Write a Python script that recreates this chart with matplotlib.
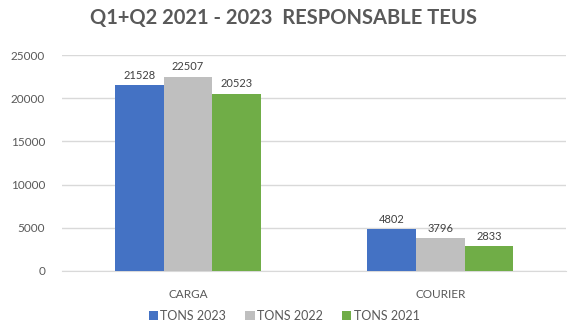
import numpy as np
import matplotlib.pyplot as plt

categories = ['CARGA', 'COURIER']
series_names = ['TONS 2023', 'TONS 2022', 'TONS 2021']
tons_2023 = [21528, 4802]
tons_2022 = [22507, 3796]
tons_2021 = [20523, 2833]
colors = ['#4472C4', '#BFBFBF', '#70AD47']

plt.rcParams['font.family'] = ['Lato', 'DejaVu Sans']
txt = '#595959'

fig = plt.figure(figsize=(5.68, 3.28), dpi=100)
ax = fig.add_axes([0.109, 0.174, 0.888, 0.658])

x = np.arange(len(categories))
w = 0.193
for i, (vals, name) in enumerate(zip([tons_2023, tons_2022, tons_2021], series_names)):
    bars = ax.bar(x + (i - 1) * w, vals, w, color=colors[i], label=name, zorder=3)
    for b, v in zip(bars, vals):
        ax.text(b.get_x() + b.get_width() / 2, v + 500, str(v),
                ha='center', va='bottom', fontsize=8, color='#404040')

ax.set_xlim(-0.5, 1.5)
ax.set_ylim(0, 25000)
ax.set_yticks(range(0, 25001, 5000))
ax.set_xticks(x)
ax.set_xticklabels(categories)
ax.grid(axis='y', color='#D9D9D9', linewidth=1, zorder=0)
for s in ['top', 'right', 'left']:
    ax.spines[s].set_visible(False)
ax.spines['bottom'].set_color('#D9D9D9')
ax.tick_params(length=0, colors=txt, labelsize=8.5)
ax.tick_params(axis='x', pad=13)
ax.tick_params(axis='y', pad=12)

fig.suptitle('Q1+Q2 2021 - 2023  RESPONSABLE TEUS', x=0.5, y=0.975,
             fontsize=14.5, fontweight='bold', color=txt)
fig.legend(loc='lower center', bbox_to_anchor=(0.5, -0.015), ncol=3, frameon=False,
           fontsize=9, labelcolor=txt, handlelength=0.75, handleheight=0.75,
           handletextpad=0.2, columnspacing=1.5)

fig.savefig('out.png', dpi=100)
